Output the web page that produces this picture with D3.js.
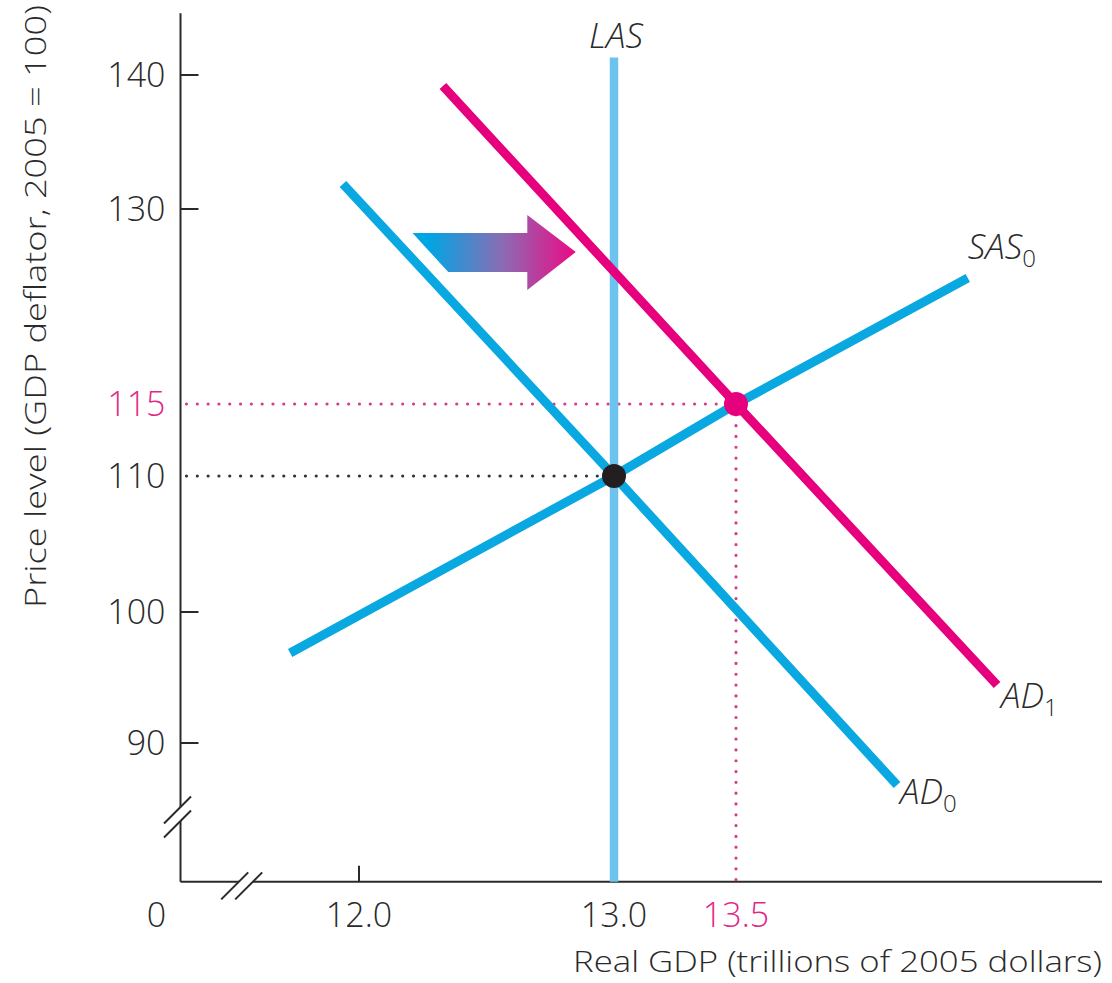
<!DOCTYPE html>
<html><head><meta charset="utf-8">
<script src="https://cdn.jsdelivr.net/npm/d3@7"></script>
<style>body{margin:0;background:#fff} svg{display:block}</style>
</head><body><svg id="chart" width="1112" height="983"></svg>
<script>
// ---------- data ----------
const xTickValues = [12.0, 13.0, 13.5];
const xTickLabels = ["12.0", "13.0", "13.5"];
const yTickValues = [90, 100, 110, 115, 130, 140];
const yTickLabels = ["90", "100", "110", "115", "130", "140"];
const yTickMarks = [90, 100, 130, 140];
const xTickMarks = [12.0];
const eq0 = [13.0, 110];
const eq1 = [13.5, 115];
const lasX = 13.0;
const lasTop = 141.3;
const AD0 = [[11.937, 131.87], [13.0, 110], [14.16, 86.79]];
const AD1 = [[12.329, 139.18], [13.5, 115], [14.57, 94.43]];
const SAS0 = [[11.73, 96.87], [13.0, 110], [13.5, 115], [14.45, 124.69]];
const shiftArrow = [[12.21, 128.15], [12.66, 128.15], [12.66, 129.54], [12.85, 126.69],
                    [12.66, 123.77], [12.66, 125.15], [12.35, 125.15]];
const xDomainEnds = [11.3, 15.0];
const yDomainEnds = [79.4, 144.6];
const xBreakAt = 11.54;
const yBreakAt = 84.35;

// ---------- layout ----------
const svg = d3.select("#chart");
const x = d3.scaleLinear().domain([12, 13, 13.5]).range([359, 614, 736]);
const y = d3.scaleLinear().domain([90, 100, 110, 115, 130, 140]).range([743, 612, 476, 404, 209, 75]);

const BLUE = "#0aa8e1", LASBLUE = "#6cc4ee", MAG = "#e6007e", INK = "#2a2a2a", PINKTXT = "#df2a85";
const FONT = "'Open Sans', Lato, sans-serif";
const x0 = x(xDomainEnds[0]), x1 = x(xDomainEnds[1]);
const y0 = y(yDomainEnds[0]), y1 = y(yDomainEnds[1]);

// gradient for arrow
const defs = svg.append("defs");
const ax = shiftArrow.map(d => x(d[0]));
const grad = defs.append("linearGradient").attr("id", "shiftGrad")
  .attr("gradientUnits", "userSpaceOnUse")
  .attr("x1", d3.min(ax)).attr("x2", d3.max(ax)).attr("y1", 0).attr("y2", 0);
grad.append("stop").attr("offset", "0.1").attr("stop-color", "#00a5e3");
grad.append("stop").attr("offset", "0.55").attr("stop-color", "#8b6cb4");
grad.append("stop").attr("offset", "1").attr("stop-color", "#ec0a84");

// axes
const axes = svg.append("g").attr("stroke", INK).attr("stroke-width", 2).attr("fill", "none");
axes.append("line").attr("x1", x0).attr("x2", x0).attr("y1", y1).attr("y2", y0);
axes.append("line").attr("x1", x0).attr("x2", x1).attr("y1", y0).attr("y2", y0);
yTickMarks.forEach(v => axes.append("line").attr("x1", x0).attr("x2", x0 + 18).attr("y1", y(v)).attr("y2", y(v)));
xTickMarks.forEach(v => axes.append("line").attr("x1", x(v)).attr("x2", x(v)).attr("y1", y0).attr("y2", y0 - 16));

// axis breaks
function breakMark(cx, cy, horizontal) {
  const g = svg.append("g");
  const half = 13.5, gap = 7;
  const offs = [-gap, gap];
  const p = offs.map(o => horizontal ? [cx + o, cy] : [cx, cy + o]);
  g.append("polygon").attr("fill", "#fff")
    .attr("points", [
      [p[0][0] - half, p[0][1] + half], [p[0][0] + half, p[0][1] - half],
      [p[1][0] + half, p[1][1] - half], [p[1][0] - half, p[1][1] + half]
    ].map(d => d.join(",")).join(" "));
  p.forEach(c => g.append("line").attr("stroke", INK).attr("stroke-width", 2)
    .attr("x1", c[0] - half).attr("y1", c[1] + half).attr("x2", c[0] + half).attr("y2", c[1] - half));
}
breakMark(x(xBreakAt), y0 + 4, true);
breakMark(x0 - 3, y(yBreakAt), false);

// dotted guides
const dots = svg.append("g").attr("fill", "none").attr("stroke-linecap", "round")
  .attr("stroke-width", 3.2).attr("stroke-dasharray", "0.01 10.8");
dots.append("line").attr("stroke", "#333").attr("x1", x0 + 6).attr("x2", x(eq0[0])).attr("y1", y(eq0[1])).attr("y2", y(eq0[1]));
dots.append("line").attr("stroke", "#d43c8c").attr("x1", x0 + 6).attr("x2", x(eq1[0])).attr("y1", y(eq1[1])).attr("y2", y(eq1[1]));
dots.append("line").attr("stroke", "#d43c8c").attr("x1", x(eq1[0])).attr("x2", x(eq1[0])).attr("y1", y(eq1[1])).attr("y2", y0 - 2);

// curves
const line = d3.line().x(d => x(d[0])).y(d => y(d[1]));
svg.append("line").attr("stroke", LASBLUE).attr("stroke-width", 8.5)
  .attr("x1", x(lasX)).attr("x2", x(lasX)).attr("y1", y(lasTop)).attr("y2", y0);
[[AD0, BLUE], [SAS0, BLUE], [AD1, MAG]].forEach(([data, c]) =>
  svg.append("path").attr("d", line(data)).attr("fill", "none").attr("stroke", c)
    .attr("stroke-width", 9).attr("stroke-linejoin", "round"));

// shift arrow
svg.append("polygon").attr("fill", "url(#shiftGrad)")
  .attr("points", shiftArrow.map(d => [x(d[0]), y(d[1])].join(",")).join(" "));

// equilibrium points
svg.append("circle").attr("cx", x(eq0[0])).attr("cy", y(eq0[1])).attr("r", 12).attr("fill", "#231f20");
svg.append("circle").attr("cx", x(eq1[0])).attr("cy", y(eq1[1])).attr("r", 12).attr("fill", MAG);

// tick labels
const txt = svg.append("g").attr("font-family", FONT).attr("font-weight", 300).attr("font-size", 34).attr("fill", INK);
yTickValues.forEach((v, i) => txt.append("text").attr("x", x0 - 15).attr("y", y(v)).attr("dy", "0.36em")
  .attr("text-anchor", "end").attr("fill", v === eq1[1] ? PINKTXT : INK).text(yTickLabels[i]));
xTickValues.forEach((v, i) => txt.append("text").attr("x", x(v)).attr("y", y0 + 45)
  .attr("text-anchor", "middle").attr("fill", v === eq1[0] ? PINKTXT : INK).text(xTickLabels[i]));
txt.append("text").attr("x", x0 - 24).attr("y", y0 + 45).attr("text-anchor", "middle").text("0");

// axis titles
txt.append("text").attr("x", 573).attr("y", 972).attr("font-size", 30)
  .attr("textLength", 529).attr("lengthAdjust", "spacingAndGlyphs")
  .text("Real GDP (trillions of 2005 dollars)");
txt.append("text").attr("transform", `translate(46,608) rotate(-90)`)
  .attr("font-size", 30).attr("textLength", 603).attr("lengthAdjust", "spacingAndGlyphs")
  .text("Price level (GDP deflator, 2005 = 100)");

// curve labels
function curveLabel(px, py, main, sub, anchor) {
  const t = svg.append("text").attr("x", px).attr("y", py).attr("font-family", FONT).attr("font-weight", 300)
    .attr("font-size", 35).attr("font-style", "italic").attr("fill", INK).attr("text-anchor", anchor || "start");
  t.append("tspan").text(main);
  if (sub) t.append("tspan").attr("font-style", "normal").attr("font-size", 24).attr("dy", 8).text(sub);
}
curveLabel(x(lasX) + 2, y(lasTop) - 10, "LAS", null, "middle");
const sEnd = SAS0[SAS0.length - 1], a1End = AD1[AD1.length - 1], a0End = AD0[AD0.length - 1];
curveLabel(x(sEnd[0]), y(sEnd[1]) - 19, "SAS", "0");
curveLabel(x(a1End[0]) + 4, y(a1End[1]) + 23, "AD", "1");
curveLabel(x(a0End[0]) + 3, y(a0End[1]) + 19, "AD", "0");
</script></body></html>
